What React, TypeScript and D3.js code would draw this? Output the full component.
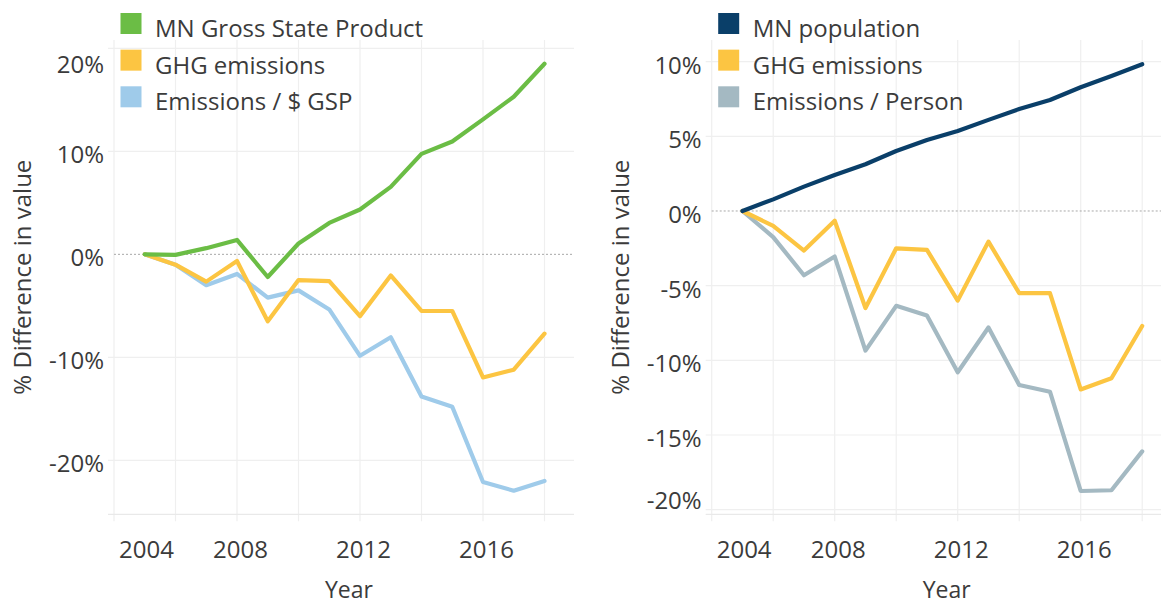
import React from "react";
import * as d3 from "d3";

// percent change relative to 2005
const years = [2005, 2006, 2007, 2008, 2009, 2010, 2011, 2012, 2013, 2014, 2015, 2016, 2017, 2018];
const gspChange = [0, -0.05, 0.6, 1.4, -2.2, 1.05, 3.05, 4.35, 6.55, 9.75, 10.95, 13.1, 15.3, 18.5];
const ghgChange = [0, -1.0, -2.65, -0.65, -6.5, -2.5, -2.6, -6.0, -2.05, -5.5, -5.5, -11.95, -11.2, -7.7];
const ghgPerGsp = [0, -1.0, -3.0, -1.9, -4.2, -3.5, -5.35, -9.85, -8.05, -13.8, -14.8, -22.1, -22.95, -22.0];
const popChange = [0, 0.78, 1.63, 2.41, 3.13, 4.02, 4.76, 5.36, 6.1, 6.83, 7.43, 8.29, 9.04, 9.83];
const ghgPerPerson = [0, -1.75, -4.3, -3.05, -9.35, -6.35, -7.0, -10.8, -7.8, -11.65, -12.1, -18.75, -18.7, -16.1];

const xTicks = [2004, 2008, 2012, 2016];
const xGrid = [2004, 2006, 2008, 2010, 2012, 2014, 2016, 2018];
const leftYTicks = [20, 10, 0, -10, -20];
const rightYTicks = [10, 5, 0, -5, -10, -15, -20];

const FONT = "'Open Sans', sans-serif";
const TEXT = "#3b3b3b";
const GRID = "#efefef";

type Series = { name: string; color: string; values: number[] };

const panels = [
  {
    left: 114,
    yDomain: [-25.24, 20.81],
    yTicks: leftYTicks,
    series: [
      { name: "MN Gross State Product", color: "#6bbd45", values: gspChange },
      { name: "GHG emissions", color: "#fcc542", values: ghgChange },
      { name: "Emissions / $ GSP", color: "#9fcbea", values: ghgPerGsp },
    ] as Series[],
  },
  {
    left: 711.7,
    yDomain: [-20.31, 11.45],
    yTicks: rightYTicks,
    series: [
      { name: "MN population", color: "#0a3f69", values: popChange },
      { name: "GHG emissions", color: "#fcc542", values: ghgChange },
      { name: "Emissions / Person", color: "#a4b9c2", values: ghgPerPerson },
    ] as Series[],
  },
];

const TOP = 40;
const BOTTOM = 514.3;
const PLOT_W = 460;

function Panel({ left, yDomain, yTicks, series }: (typeof panels)[number]) {
  const right = left + PLOT_W;
  const x = d3.scaleLinear().domain([2004, 2018]).range([left, left + 14 * 30.75]);
  const y = d3.scaleLinear().domain(yDomain).range([BOTTOM, TOP]);
  const line = d3
    .line<number>()
    .x((_, i) => x(years[i]))
    .y((d) => y(d));

  return (
    <g>
      {/* vertical grid */}
      {xGrid.map((t) => (
        <line key={"vx" + t} x1={x(t)} x2={x(t)} y1={TOP} y2={BOTTOM + 7} stroke={GRID} strokeWidth={1.2} />
      ))}
      {/* horizontal grid */}
      {yTicks
        .filter((t) => t !== 0)
        .map((t) => (
          <line key={"hy" + t} x1={left - 6} x2={right} y1={y(t)} y2={y(t)} stroke={GRID} strokeWidth={1.2} />
        ))}
      <line x1={left - 6} x2={right} y1={BOTTOM} y2={BOTTOM} stroke="#e9e9e9" strokeWidth={1.2} />
      <line x1={left} x2={right} y1={y(0)} y2={y(0)} stroke="#a8a8a8" strokeWidth={1} strokeDasharray="2,2" />

      {/* lines, first legend item on top */}
      {[...series].reverse().map((s) => (
        <path
          key={s.name}
          d={line(s.values) || ""}
          fill="none"
          stroke={s.color}
          strokeWidth={4.2}
          strokeLinejoin="round"
          strokeLinecap="round"
        />
      ))}

      {/* y tick labels */}
      {yTicks.map((t) => {
        const cy = Math.min(Math.max(y(t) + 3.5, TOP + 24), BOTTOM - 14);
        return (
          <text key={"yl" + t} x={left - 10} y={cy + 8.5} textAnchor="end" fontSize={24} fill={TEXT}>
            {t + "%"}
          </text>
        );
      })}

      {/* x tick labels */}
      {xTicks.map((t, i) =>
        i === 0 ? (
          <text key={"xl" + t} x={left + 5} y={558} textAnchor="start" fontSize={24} fill={TEXT}>
            {t}
          </text>
        ) : (
          <text key={"xl" + t} x={x(t) + 3.5} y={558} textAnchor="middle" fontSize={24} fill={TEXT}>
            {t}
          </text>
        )
      )}

      <text x={left + 235} y={598} textAnchor="middle" fontSize={23} fill={TEXT}>
        Year
      </text>
      <text
        transform={`translate(${left - 83},${(TOP + BOTTOM) / 2}) rotate(-90)`}
        textAnchor="middle"
        fontSize={24}
        fill={TEXT}
      >
        % Difference in value
      </text>

      {/* legend */}
      {series.map((s, i) => {
        const top = 13 + i * 36.65;
        return (
          <g key={"lg" + s.name}>
            <rect x={left + 6.5} y={top} width={21} height={21} fill={s.color} />
            <text x={left + 41} y={top + 24} fontSize={24} fill={TEXT}>
              {s.name}
            </text>
          </g>
        );
      })}
    </g>
  );
}

export default function App() {
  return (
    <svg
      width={1161}
      height={606}
      style={{ position: "absolute", left: 0, top: 0, background: "#fff" }}
      fontFamily={FONT}
    >
      <rect width={1161} height={606} fill="#fff" />
      {panels.map((p, i) => (
        <Panel key={i} {...p} />
      ))}
    </svg>
  );
}
